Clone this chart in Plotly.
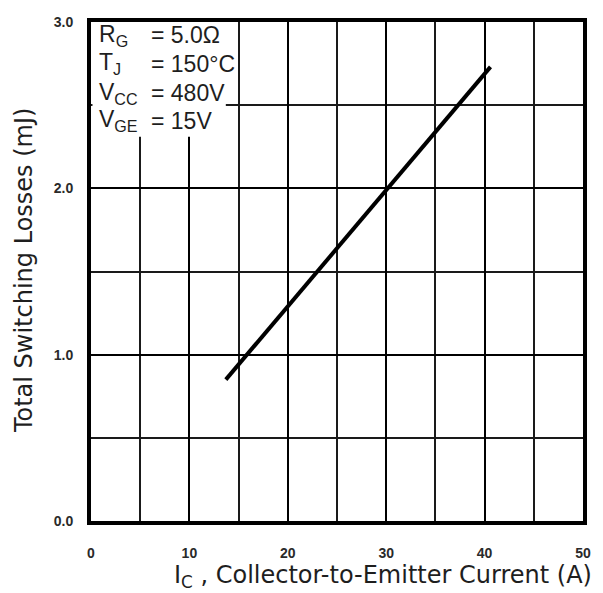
import plotly.graph_objects as go

# Data
ic_current = [13.7, 40.6]
total_losses = [0.85, 2.73]
x_ticks = [0, 10, 20, 30, 40, 50]
x_tick_labels = ["0", "10", "20", "30", "40", "50"]
y_ticks = [0.0, 1.0, 2.0, 3.0]
y_tick_labels = ["0.0", "1.0", "2.0", "3.0"]
cond_labels = ["R<sub>G</sub>", "T<sub>J</sub>", "V<sub>CC</sub>", "V<sub>GE</sub>"]
cond_values = ["= 5.0Ω", "= 150°C", "= 480V", "= 15V"]

# figure geometry (body margin removed after plotting, so page px == figure px)
W, H = 603, 593
ML, MR, MT, MB = 91, 12, 22, 72
PW, PH = W - ML - MR, H - MT - MB


def px(xpage):
    return (xpage - ML) / PW


def py(ypage):
    return 1 - (ypage - MT) / PH


tick_font = dict(family="Liberation Sans Narrow, Liberation Sans, Arial, sans-serif",
                 size=14, color="#2a2a2a", weight="bold")
box_font = dict(family="Liberation Sans, Arial, sans-serif", size=23, color="#1e1e1e")
title_font = dict(family="DejaVu Sans, Liberation Sans, sans-serif", size=24, color="#1e1e1e")

fig = go.Figure()
fig.add_trace(go.Scatter(x=ic_current, y=total_losses, mode="lines",
                         line=dict(color="black", width=4), showlegend=False,
                         hoverinfo="skip"))

fig.update_xaxes(range=[0, 50], tickvals=x_ticks, ticktext=x_tick_labels,
                 showgrid=True, gridcolor="black", gridwidth=2.2,
                 minor=dict(dtick=5, showgrid=True, gridcolor="#1a1a1a", gridwidth=1.6),
                 showline=True, mirror=True, linecolor="black", linewidth=4,
                 ticks="outside", ticklen=16, tickcolor="rgba(0,0,0,0)",
                 tickfont=tick_font, zeroline=False, fixedrange=True)
fig.update_yaxes(range=[0, 3], tickvals=y_ticks, ticktext=y_tick_labels,
                 showgrid=True, gridcolor="black", gridwidth=2.2,
                 minor=dict(dtick=0.5, showgrid=True, gridcolor="#1a1a1a", gridwidth=1.6),
                 showline=True, mirror=True, linecolor="black", linewidth=4,
                 ticks="outside", ticklen=11, tickcolor="rgba(0,0,0,0)",
                 tickfont=tick_font, zeroline=False, fixedrange=True)

# white condition box
fig.add_shape(type="rect", xref="x", yref="y", x0=0.15, x1=13.7, y0=2.31, y1=3.0,
              fillcolor="white", line=dict(width=0), layer="above")

annotations = []
row_centers = [35, 64, 93, 121]
for lab, val, yc in zip(cond_labels, cond_values, row_centers):
    annotations.append(dict(text=lab, xref="paper", yref="paper", x=px(97),
                            y=py(yc), xanchor="left", yanchor="middle",
                            showarrow=False, font=box_font))
    annotations.append(dict(text=val, xref="paper", yref="paper", x=px(150),
                            y=py(yc), xanchor="left", yanchor="middle",
                            showarrow=False, font=box_font))

annotations.append(dict(text="I<sub>C</sub> , Collector-to-Emitter Current (A)",
                        xref="paper", yref="paper", x=px(602), y=py(576),
                        xanchor="right", yanchor="middle", showarrow=False,
                        font=title_font))
annotations.append(dict(text="Total Switching Losses (mJ)", xref="paper", yref="paper",
                        x=px(23), y=py(270), xanchor="center", yanchor="middle",
                        textangle=-90, showarrow=False, font=title_font))

fig.update_layout(width=W, height=H, margin=dict(l=ML, r=MR, t=MT, b=MB),
                  paper_bgcolor="white", plot_bgcolor="white",
                  annotations=annotations)

fig.write_html("out.html", config={"displayModeBar": False},
               post_script="document.body.style.margin='0px';")
